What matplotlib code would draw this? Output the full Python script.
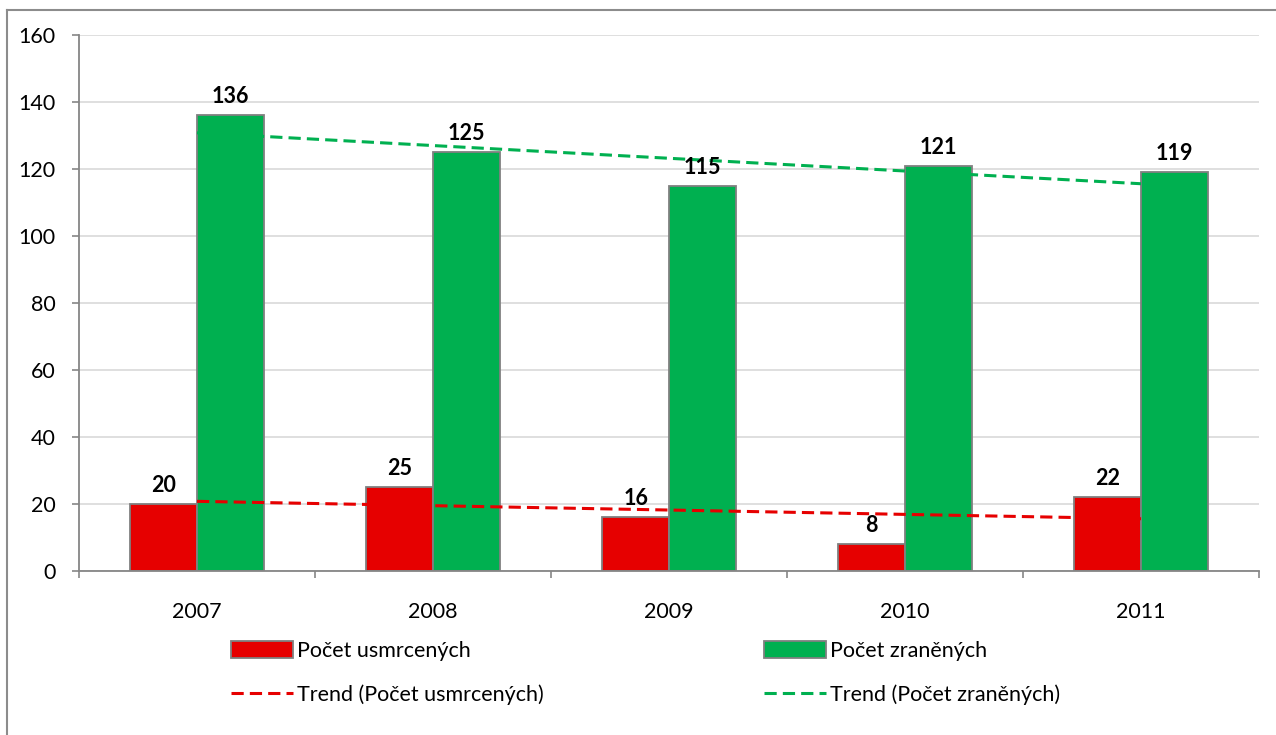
import numpy as np
import matplotlib
matplotlib.use("Agg")
import matplotlib.pyplot as plt
from matplotlib.lines import Line2D
from matplotlib.patches import Patch

years = ["2007", "2008", "2009", "2010", "2011"]
killed = [20, 25, 16, 8, 22]
injured = [136, 125, 115, 121, 119]
label_killed = "Počet usmrcených"
label_injured = "Počet zraněných"

RED = "#E60000"
GREEN = "#00B050"
EDGE = "#808080"
AXIS = "#868686"
GRID = "#D9D9D9"

plt.rcParams["font.family"] = ["Lato", "DejaVu Sans"]
plt.rcParams["font.size"] = 15.5

W, H = 1276, 735
fig = plt.figure(figsize=(W / 100, H / 100), dpi=100)
ax = fig.add_axes([79 / W, 1 - 571 / H, (1259 - 79) / W, (571 - 35) / H])

x = np.arange(len(years))
bw = 67 / 237

ax.bar(x - bw / 2, killed, bw, color=RED, edgecolor=EDGE, linewidth=1.3, zorder=2)
ax.bar(x + bw / 2, injured, bw, color=GREEN, edgecolor=EDGE, linewidth=1.3, zorder=2)

for xi, v in zip(x, killed):
    ax.annotate(str(v), (xi - bw / 2, v), xytext=(0, 8), textcoords="offset pixels",
                ha="center", va="bottom", fontweight="bold", zorder=5)
for xi, v in zip(x, injured):
    ax.annotate(str(v), (xi + bw / 2, v), xytext=(0, 8), textcoords="offset pixels",
                ha="center", va="bottom", fontweight="bold", zorder=5)

# linear trend lines, like Excel's trendline
pos = np.arange(1, len(years) + 1)
k_fit = np.polyval(np.polyfit(pos, killed, 1), pos)
i_fit = np.polyval(np.polyfit(pos, injured, 1), pos)
ax.plot(x, k_fit, color=RED, lw=2.2, dashes=(4, 2), zorder=4)
ax.plot(x, i_fit, color=GREEN, lw=2.2, dashes=(4, 2), zorder=4)

ax.set_xlim(-0.5, len(years) - 0.5)
ax.set_ylim(0, 160)
ax.set_yticks(range(0, 161, 20))
ax.grid(axis="y", color=GRID, lw=1.2, zorder=0)
ax.set_axisbelow(True)

ax.set_xticks(x)
ax.set_xticklabels(years)
ax.set_xticks(np.arange(-0.5, len(years)), minor=True)
ax.tick_params(axis="x", which="major", length=0, pad=22)
ax.tick_params(axis="x", which="minor", length=5, width=1.2, color=AXIS, direction="out")
ax.tick_params(axis="y", length=5, width=1.2, color=AXIS, pad=12)

for s in ["top", "right"]:
    ax.spines[s].set_visible(False)
for s in ["left", "bottom"]:
    ax.spines[s].set_color(AXIS)
    ax.spines[s].set_linewidth(1.3)

leg_kw = dict(frameon=False, handlelength=2.9, handleheight=0.85, handletextpad=0.15,
              labelspacing=1.1, borderaxespad=0, borderpad=0)
leg1 = fig.legend(handles=[Patch(facecolor=RED, edgecolor=EDGE, lw=1.3, label=label_killed),
                           Line2D([], [], color=RED, lw=2.2, dashes=(4, 2),
                                  label=f"Trend ({label_killed})")],
                  loc="upper left", bbox_to_anchor=(231 / W, 1 - 641 / H), **leg_kw)
leg2 = fig.legend(handles=[Patch(facecolor=GREEN, edgecolor=EDGE, lw=1.3, label=label_injured),
                           Line2D([], [], color=GREEN, lw=2.2, dashes=(4, 2),
                                  label=f"Trend ({label_injured})")],
                  loc="upper left", bbox_to_anchor=(764 / W, 1 - 641 / H), **leg_kw)

# outer chart frame (only top and left edges are in view)
fig.add_artist(Line2D([7 / W, 1], [1 - 10 / H, 1 - 10 / H], color="#8C8C8C", lw=1.5))
fig.add_artist(Line2D([7 / W, 7 / W], [0, 1 - 10 / H], color="#8C8C8C", lw=1.5))

fig.savefig("out.png", dpi=100, facecolor="white")
